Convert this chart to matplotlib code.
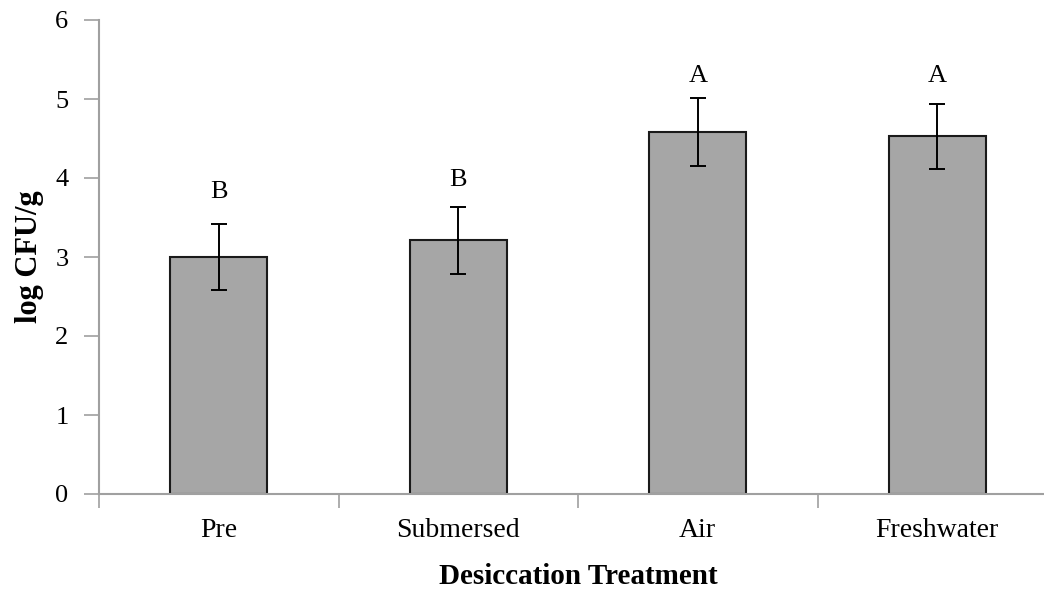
import numpy as np
import matplotlib.pyplot as plt

plt.rcParams['font.family'] = ['Liberation Serif', 'DejaVu Serif']

# Data
# -----------------------------
treatments = ["Pre", "Submersed", "Air", "Freshwater"]
log_cfu = [3.00, 3.21, 4.58, 4.53]
err = [0.42, 0.42, 0.43, 0.41]
letters = ["B", "B", "A", "A"]
letter_y = [3.82, 3.97, 5.29, 5.29]

# Plot
# -----------------------------
fig = plt.figure(figsize=(10.44, 5.90), dpi=100)
ax = fig.add_axes([99 / 1044, 96 / 590, 958 / 1044, 474 / 590])

x = np.arange(len(treatments))
ax.bar(x, log_cfu, width=0.405, color="#a6a6a6", edgecolor="#1a1a1a",
       linewidth=1.5, zorder=2)
ax.errorbar(x, log_cfu, yerr=err, fmt="none", ecolor="black",
            elinewidth=1.4, capsize=6, capthick=1.4, zorder=3)

for xi, lab, ly in zip(x, letters, letter_y):
    ax.text(xi, ly, lab, ha="center", va="center", fontsize=19)

ax.set_xlim(-0.5, 3.5)
ax.set_ylim(0, 6)
ax.set_yticks(range(0, 7))
ax.tick_params(axis="y", labelsize=19, length=11, width=1.2,
               color="#a0a0a0", pad=11)

# category labels centred, ticks at the boundaries
ax.set_xticks(np.arange(-0.5, 4.0, 1.0))
ax.set_xticklabels([])
ax.set_xticks(x, minor=True)
ax.set_xticklabels(treatments, minor=True, fontsize=20)
ax.tick_params(axis="x", which="major", length=10, width=1.2,
               color="#a0a0a0")
ax.tick_params(axis="x", which="minor", length=0, pad=17)

for side in ["top", "right"]:
    ax.spines[side].set_visible(False)
for side in ["left", "bottom"]:
    ax.spines[side].set_color("#a0a0a0")
    ax.spines[side].set_linewidth(1.5)

ax.set_ylabel("log CFU/g", fontsize=22, fontweight="bold", labelpad=8)
ax.set_xlabel("Desiccation Treatment", fontsize=21, fontweight="bold")
ax.xaxis.label.set_va("center")
ax.xaxis.set_label_coords(0.5, -0.175)

fig.savefig("out.png", dpi=100)
